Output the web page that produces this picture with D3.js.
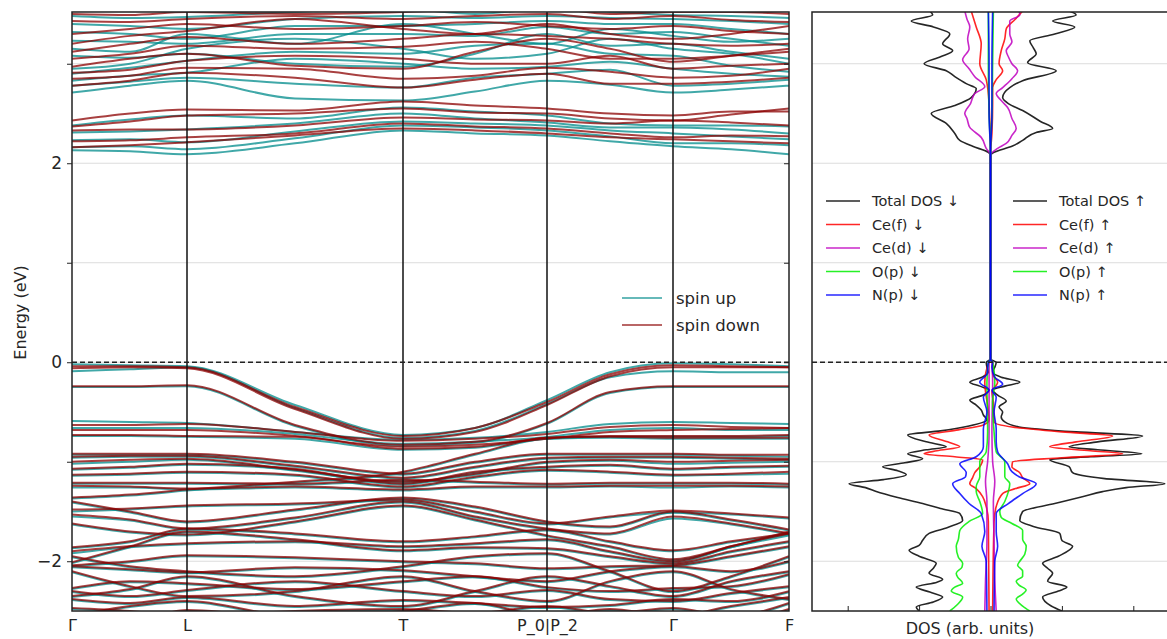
<!DOCTYPE html>
<html>
<head>
<meta charset="utf-8">
<script src="https://cdn.jsdelivr.net/npm/d3@7"></script>
<style>
  body { margin: 0; background: #fff; }
  text { font-family: "DejaVu Sans", sans-serif; fill: #262626; }
</style>
</head>
<body>
<div id="chart"></div>
<script>
// k-path: sample positions along the path and the high symmetry points
let kPts = [0, 0.58, 1.15, 2.23, 3.31, 4.03, 4.75, 5.38, 6.01, 6.59, 7.17];
let kTicks = [0, 1.15, 3.31, 4.75, 6.01, 7.17];
let kLabels = ["Γ", "L", "T", "P_0|P_2", "Γ", "F"];
let energyTicks = [-2, -1, 0, 1, 2, 3];

// band energies (eV) at kPts, spin up
let valenceUp = [
  [-0.02,-0.03,-0.04,-0.43,-0.73,-0.66,-0.38,-0.10,-0.01,-0.02,-0.04],
  [-0.09,-0.07,-0.05,-0.46,-0.76,-0.69,-0.42,-0.15,-0.09,-0.10,-0.10],
  [-0.25,-0.25,-0.24,-0.64,-0.84,-0.81,-0.62,-0.31,-0.25,-0.25,-0.25],
  [-0.59,-0.60,-0.61,-0.70,-0.78,-0.76,-0.70,-0.62,-0.60,-0.61,-0.62],
  [-0.66,-0.66,-0.66,-0.72,-0.82,-0.80,-0.75,-0.68,-0.66,-0.68,-0.68],
  [-0.74,-0.74,-0.75,-0.77,-0.88,-0.86,-0.77,-0.75,-0.75,-0.75,-0.74],
  [-0.93,-0.93,-0.93,-1.01,-1.13,-1.01,-0.93,-0.93,-0.93,-0.94,-0.95],
  [-0.96,-0.95,-0.95,-1.05,-1.17,-1.06,-0.97,-0.96,-0.96,-0.97,-0.98],
  [-1.02,-1.00,-0.98,-1.09,-1.21,-1.13,-1.01,-0.99,-1.02,-1.01,-1.00],
  [-1.08,-1.06,-1.03,-1.08,-1.23,-1.11,-1.06,-1.04,-1.08,-1.06,-1.05],
  [-1.14,-1.13,-1.11,-1.14,-1.26,-1.16,-1.09,-1.11,-1.14,-1.13,-1.12],
  [-1.22,-1.22,-1.22,-1.23,-1.19,-1.21,-1.23,-1.22,-1.22,-1.22,-1.23],
  [-1.26,-1.26,-1.28,-1.26,-1.29,-1.26,-1.26,-1.25,-1.26,-1.25,-1.26],
  [-1.37,-1.34,-1.29,-1.21,-1.11,-0.93,-0.77,-0.76,-0.77,-0.77,-0.77],
  [-1.41,-1.51,-1.61,-1.49,-1.37,-1.46,-1.61,-1.66,-1.51,-1.59,-1.69],
  [-1.50,-1.48,-1.45,-1.43,-1.39,-1.51,-1.63,-1.56,-1.51,-1.53,-1.57],
  [-1.55,-1.59,-1.68,-1.57,-1.41,-1.56,-1.68,-1.73,-1.57,-1.63,-1.73],
  [-1.63,-1.71,-1.74,-1.61,-1.45,-1.59,-1.75,-1.86,-1.99,-1.86,-1.71],
  [-1.87,-1.81,-1.68,-1.73,-1.81,-1.76,-1.69,-1.81,-1.90,-1.81,-1.73],
  [-1.92,-1.86,-1.83,-1.81,-1.86,-1.83,-1.79,-1.91,-2.01,-1.86,-1.74],
  [-1.96,-2.06,-2.11,-2.16,-2.06,-1.96,-1.93,-2.11,-2.31,-2.16,-1.96],
  [-2.02,-1.86,-1.71,-1.79,-1.90,-1.87,-1.88,-1.96,-2.03,-1.91,-1.81],
  [-2.05,-2.01,-1.95,-1.97,-2.01,-2.03,-2.08,-2.06,-2.05,-1.96,-1.86],
  [-2.06,-2.09,-2.12,-2.07,-2.10,-2.16,-2.21,-2.11,-2.06,-2.11,-2.01],
  [-2.11,-2.26,-2.36,-2.31,-2.16,-2.31,-2.41,-2.21,-2.11,-2.29,-2.39],
  [-2.28,-2.21,-2.23,-2.29,-2.21,-2.16,-2.27,-2.31,-2.28,-2.26,-2.14],
  [-2.31,-2.36,-2.30,-2.21,-2.31,-2.36,-2.30,-2.39,-2.41,-2.33,-2.26],
  [-2.36,-2.29,-2.16,-2.36,-2.46,-2.31,-2.16,-2.26,-2.36,-2.21,-2.11],
  [-2.39,-2.43,-2.37,-2.46,-2.40,-2.43,-2.47,-2.45,-2.39,-2.41,-2.31],
  [-2.48,-2.51,-2.56,-2.51,-2.49,-2.53,-2.46,-2.53,-2.48,-2.56,-2.43],
  [-2.56,-2.46,-2.41,-2.56,-2.51,-2.43,-2.56,-2.49,-2.56,-2.46,-2.37],
  [-2.61,-2.61,-2.50,-2.59,-2.61,-2.59,-2.61,-2.61,-2.61,-2.61,-2.49]
];
let conductionUp = [
  [2.13, 2.12, 2.09, 2.20, 2.33, 2.30, 2.28, 2.22, 2.17, 2.14, 2.09],
  [2.16, 2.17, 2.14, 2.25, 2.38, 2.36, 2.33, 2.27, 2.20, 2.20, 2.18],
  [2.23, 2.24, 2.21, 2.32, 2.42, 2.40, 2.38, 2.33, 2.30, 2.27, 2.24],
  [2.31, 2.32, 2.34, 2.40, 2.50, 2.45, 2.41, 2.36, 2.36, 2.34, 2.30],
  [2.38, 2.44, 2.48, 2.45, 2.56, 2.52, 2.48, 2.40, 2.38, 2.38, 2.37],
  [2.71, 2.78, 2.83, 2.65, 2.63, 2.72, 2.83, 2.79, 2.71, 2.74, 2.78],
  [2.78, 2.82, 2.86, 2.80, 2.76, 2.86, 2.90, 2.94, 2.78, 2.80, 2.84],
  [2.83, 2.88, 2.91, 3.05, 3.00, 2.95, 2.97, 3.02, 2.95, 2.90, 2.87],
  [2.90, 2.96, 3.03, 3.12, 3.10, 3.18, 3.20, 3.10, 3.08, 2.98, 2.92],
  [2.95, 3.00, 3.15, 3.25, 3.15, 3.05, 3.10, 3.25, 3.15, 3.10, 3.00],
  [3.08, 3.06, 3.10, 3.00, 2.97, 3.10, 3.30, 3.18, 3.20, 3.12, 3.05],
  [3.15, 3.12, 3.30, 3.20, 3.40, 3.30, 3.20, 3.35, 3.28, 3.22, 3.25],
  [3.23, 3.22, 3.20, 3.30, 3.30, 3.28, 3.37, 3.30, 3.32, 3.25, 3.18],
  [3.32, 3.30, 3.25, 3.38, 3.38, 3.40, 3.43, 3.40, 3.40, 3.35, 3.30],
  [3.40, 3.38, 3.35, 3.45, 3.48, 3.46, 3.48, 3.46, 3.45, 3.43, 3.40],
  [3.48, 3.46, 3.47, 3.52, 3.55, 3.50, 3.55, 3.52, 3.49, 3.48, 3.46]
];

// band energies (eV) at kPts, spin down
let valenceDown = [
  [-0.04,-0.04,-0.05,-0.45,-0.74,-0.66,-0.40,-0.12,-0.03,-0.04,-0.05],
  [-0.06,-0.05,-0.06,-0.47,-0.77,-0.70,-0.43,-0.14,-0.05,-0.05,-0.05],
  [-0.24,-0.24,-0.23,-0.63,-0.83,-0.80,-0.61,-0.30,-0.24,-0.24,-0.24],
  [-0.63,-0.63,-0.62,-0.70,-0.79,-0.77,-0.72,-0.65,-0.63,-0.65,-0.66],
  [-0.68,-0.68,-0.68,-0.74,-0.85,-0.83,-0.77,-0.70,-0.68,-0.67,-0.66],
  [-0.73,-0.73,-0.74,-0.75,-0.87,-0.85,-0.76,-0.74,-0.74,-0.74,-0.73],
  [-0.92,-0.92,-0.92,-1.00,-1.12,-1.00,-0.92,-0.92,-0.92,-0.93,-0.93],
  [-0.95,-0.94,-0.94,-1.04,-1.16,-1.05,-0.96,-0.95,-0.95,-0.96,-0.97],
  [-1.00,-0.98,-0.97,-1.08,-1.20,-1.12,-1.00,-0.98,-1.00,-0.99,-0.98],
  [-1.07,-1.05,-1.02,-1.07,-1.22,-1.10,-1.05,-1.03,-1.07,-1.05,-1.04],
  [-1.13,-1.12,-1.10,-1.13,-1.25,-1.15,-1.08,-1.10,-1.13,-1.12,-1.10],
  [-1.21,-1.21,-1.21,-1.22,-1.18,-1.20,-1.22,-1.21,-1.21,-1.21,-1.22],
  [-1.24,-1.25,-1.27,-1.25,-1.28,-1.25,-1.25,-1.24,-1.24,-1.24,-1.25],
  [-1.36,-1.33,-1.28,-1.20,-1.10,-0.92,-0.76,-0.75,-0.76,-0.76,-0.76],
  [-1.40,-1.50,-1.60,-1.48,-1.36,-1.45,-1.60,-1.65,-1.50,-1.58,-1.68],
  [-1.48,-1.47,-1.44,-1.42,-1.38,-1.50,-1.62,-1.55,-1.49,-1.52,-1.56],
  [-1.53,-1.58,-1.67,-1.56,-1.40,-1.55,-1.67,-1.72,-1.55,-1.62,-1.72],
  [-1.62,-1.70,-1.73,-1.60,-1.44,-1.58,-1.74,-1.85,-1.98,-1.85,-1.70],
  [-1.86,-1.80,-1.67,-1.72,-1.80,-1.75,-1.68,-1.80,-1.89,-1.80,-1.72],
  [-1.90,-1.85,-1.82,-1.80,-1.85,-1.82,-1.78,-1.90,-2.00,-1.85,-1.72],
  [-1.95,-2.05,-2.10,-2.15,-2.05,-1.95,-1.92,-2.10,-2.30,-2.15,-1.95],
  [-2.01,-1.85,-1.70,-1.78,-1.89,-1.86,-1.87,-1.95,-2.02,-1.90,-1.80],
  [-2.04,-2.00,-1.94,-1.96,-2.00,-2.02,-2.07,-2.05,-2.04,-1.95,-1.85],
  [-2.05,-2.08,-2.11,-2.06,-2.09,-2.15,-2.20,-2.10,-2.05,-2.10,-2.00],
  [-2.10,-2.25,-2.35,-2.30,-2.15,-2.30,-2.40,-2.20,-2.10,-2.28,-2.38],
  [-2.27,-2.20,-2.22,-2.28,-2.20,-2.15,-2.26,-2.30,-2.27,-2.25,-2.13],
  [-2.30,-2.35,-2.29,-2.20,-2.30,-2.35,-2.29,-2.38,-2.40,-2.32,-2.25],
  [-2.35,-2.28,-2.15,-2.35,-2.45,-2.30,-2.15,-2.25,-2.35,-2.20,-2.10],
  [-2.38,-2.42,-2.36,-2.45,-2.39,-2.42,-2.46,-2.44,-2.38,-2.40,-2.30],
  [-2.47,-2.50,-2.55,-2.50,-2.48,-2.52,-2.45,-2.52,-2.47,-2.55,-2.42],
  [-2.55,-2.45,-2.40,-2.55,-2.50,-2.42,-2.55,-2.48,-2.55,-2.45,-2.36],
  [-2.60,-2.60,-2.49,-2.58,-2.60,-2.58,-2.60,-2.60,-2.60,-2.60,-2.48]
];
let conductionDown = [
  [2.16, 2.18, 2.21, 2.28, 2.35, 2.33, 2.30, 2.26, 2.24, 2.22, 2.20],
  [2.22, 2.23, 2.26, 2.30, 2.40, 2.37, 2.35, 2.30, 2.26, 2.28, 2.27],
  [2.33, 2.34, 2.34, 2.38, 2.46, 2.44, 2.43, 2.40, 2.43, 2.41, 2.38],
  [2.37, 2.42, 2.48, 2.50, 2.55, 2.51, 2.50, 2.45, 2.43, 2.49, 2.55],
  [2.43, 2.50, 2.54, 2.53, 2.62, 2.58, 2.55, 2.50, 2.48, 2.52, 2.52],
  [2.78, 2.83, 2.91, 2.86, 2.76, 2.84, 2.90, 2.80, 2.80, 2.82, 2.86],
  [2.85, 2.88, 2.96, 2.95, 2.85, 2.88, 2.96, 2.92, 2.86, 2.88, 2.95],
  [2.91, 2.94, 3.03, 3.08, 3.05, 3.00, 3.00, 3.08, 2.95, 2.98, 3.00],
  [2.97, 3.05, 3.10, 2.98, 2.95, 3.12, 3.25, 3.15, 3.02, 3.08, 3.15],
  [3.05, 3.10, 3.18, 3.15, 3.17, 3.22, 3.15, 3.05, 3.05, 3.08, 3.12],
  [3.12, 3.20, 3.27, 3.20, 3.25, 3.30, 3.28, 3.25, 3.20, 3.18, 3.20],
  [3.20, 3.28, 3.33, 3.45, 3.35, 3.30, 3.40, 3.30, 3.25, 3.30, 3.38],
  [3.30, 3.35, 3.40, 3.35, 3.38, 3.42, 3.38, 3.35, 3.38, 3.33, 3.30],
  [3.43, 3.42, 3.45, 3.48, 3.45, 3.48, 3.50, 3.45, 3.48, 3.44, 3.42],
  [3.50, 3.49, 3.52, 3.50, 3.52, 3.55, 3.56, 3.50, 3.52, 3.52, 3.50]
];

// DOS curves as [energy, dos] pairs (spin down drawn to the left)
let totalDown = [[-2.5,1.0],[-2.46,1.04],[-2.41,0.8],[-2.36,0.67],[-2.31,0.85],[-2.26,1.04],[-2.21,0.75],[-2.18,0.67],[-2.12,0.86],[-2.07,0.8],[-2.02,0.76],[-1.95,1.0],[-1.89,1.14],[-1.84,1.0],[-1.79,0.95],[-1.72,0.86],[-1.66,0.6],[-1.59,0.39],[-1.52,0.43],[-1.47,0.7],[-1.42,0.95],[-1.36,1.3],[-1.30,1.6],[-1.26,1.75],[-1.22,1.98],[-1.18,1.5],[-1.13,1.18],[-1.09,1.3],[-1.05,1.51],[-1.01,1.2],[-0.97,0.95],[-0.92,1.16],[-0.88,0.9],[-0.85,0.62],[-0.8,0.9],[-0.73,1.16],[-0.69,0.7],[-0.64,0.3],[-0.58,0.05],[-0.53,0.1],[-0.48,0.13],[-0.43,0.2],[-0.38,0.29],[-0.33,0.1],[-0.28,0.02],[-0.24,0.15],[-0.2,0.29],[-0.15,0.12],[-0.1,0.03],[-0.05,0.05],[0,0.06],[0.03,0],[2.08,0],[2.11,0.03],[2.17,0.25],[2.23,0.43],[2.3,0.5],[2.4,0.62],[2.5,0.83],[2.58,0.5],[2.66,0.27],[2.75,0.2],[2.8,0.34],[2.87,0.5],[2.93,0.62],[3.0,0.93],[3.07,0.7],[3.13,0.53],[3.2,0.67],[3.3,0.57],[3.37,0.8],[3.43,1.11],[3.49,0.81],[3.53,0.85]];
let cefDown = [[-2.5,0.02],[-1.6,0.03],[-1.45,0.06],[-1.35,0.11],[-1.27,0.2],[-1.22,0.29],[-1.16,0.25],[-1.11,0.22],[-1.05,0.15],[-0.98,0.11],[-0.95,0.5],[-0.92,0.93],[-0.89,0.75],[-0.85,0.43],[-0.8,0.6],[-0.73,0.86],[-0.68,0.45],[-0.63,0.1],[-0.58,0.02],[-0.2,0.08],[0,0.02],[0.03,0],[2.08,0],[2.6,0.02],[2.84,0.06],[3.0,0.15],[3.2,0.13],[3.37,0.2],[3.53,0.27]];
let cedDown = [[-2.5,0.08],[-2.2,0.07],[-1.8,0.05],[-1.4,0.05],[-1.2,0.07],[-1.0,0.04],[-0.7,0.02],[0,0.02],[0.03,0],[2.08,0],[2.15,0.06],[2.26,0.13],[2.36,0.29],[2.45,0.33],[2.5,0.36],[2.6,0.28],[2.7,0.22],[2.77,0.08],[2.87,0.22],[2.95,0.3],[3.04,0.39],[3.15,0.3],[3.25,0.32],[3.37,0.29],[3.45,0.33],[3.53,0.36]];
let opDown = [[-2.5,0.57],[-2.44,0.47],[-2.36,0.39],[-2.3,0.55],[-2.26,0.5],[-2.22,0.39],[-2.16,0.46],[-2.12,0.48],[-2.06,0.4],[-2.02,0.39],[-1.96,0.45],[-1.85,0.48],[-1.78,0.45],[-1.69,0.43],[-1.6,0.3],[-1.52,0.11],[-1.4,0.15],[-1.3,0.2],[-1.25,0.2],[-1.15,0.15],[-1.0,0.15],[-0.9,0.06],[-0.7,0.04],[-0.2,0.05],[0,0.03],[0.03,0],[2.08,0],[2.5,0.02],[3.0,0.03],[3.53,0.03]];
let npDown = [[-2.5,0.05],[-2.0,0.06],[-1.85,0.12],[-1.7,0.08],[-1.52,0.13],[-1.42,0.3],[-1.32,0.43],[-1.22,0.53],[-1.15,0.35],[-1.11,0.34],[-1.02,0.43],[-0.95,0.2],[-0.85,0.1],[-0.67,0.1],[-0.5,0.05],[-0.35,0.1],[-0.28,0.02],[-0.2,0.15],[-0.12,0.05],[0,0.03],[0.03,0],[2.08,0],[2.5,0.02],[3.0,0.02],[3.53,0.03]];

let totalUp = [[-2.5,1.0],[-2.45,0.85],[-2.36,0.73],[-2.3,0.95],[-2.26,1.07],[-2.2,0.8],[-2.12,0.87],[-2.07,0.8],[-2.02,0.73],[-1.95,0.95],[-1.85,1.15],[-1.79,1.0],[-1.72,0.97],[-1.65,0.6],[-1.59,0.41],[-1.5,0.45],[-1.42,0.9],[-1.35,1.3],[-1.30,1.57],[-1.26,1.9],[-1.22,2.44],[-1.17,1.6],[-1.11,1.15],[-1.05,1.1],[-0.98,0.83],[-0.95,1.4],[-0.92,2.12],[-0.88,1.5],[-0.85,1.1],[-0.8,1.5],[-0.74,2.13],[-0.7,1.2],[-0.65,0.4],[-0.6,0.2],[-0.55,0.15],[-0.5,0.17],[-0.45,0.12],[-0.39,0.22],[-0.33,0.1],[-0.28,0.03],[-0.24,0.2],[-0.2,0.41],[-0.15,0.15],[-0.1,0.03],[-0.05,0.06],[0,0.08],[0.03,0],[2.08,0],[2.11,0.05],[2.17,0.3],[2.23,0.45],[2.31,0.64],[2.35,0.87],[2.42,0.7],[2.53,0.45],[2.6,0.25],[2.66,0.17],[2.76,0.27],[2.83,0.45],[2.93,0.92],[3.01,0.52],[3.10,0.64],[3.16,0.6],[3.23,0.55],[3.3,0.9],[3.37,1.18],[3.43,0.87],[3.49,1.2],[3.53,1.1]];
let cefUp = [[-2.5,0.03],[-1.6,0.05],[-1.45,0.08],[-1.32,0.17],[-1.27,0.35],[-1.22,0.55],[-1.16,0.45],[-1.11,0.41],[-1.05,0.3],[-1.0,0.31],[-0.96,1.0],[-0.92,1.85],[-0.89,1.4],[-0.85,0.83],[-0.80,1.2],[-0.74,1.71],[-0.7,1.0],[-0.65,0.3],[-0.6,0.05],[-0.4,0.04],[-0.3,0.02],[-0.2,0.1],[-0.12,0.03],[0,0.03],[0.03,0],[2.08,0],[2.3,0.02],[2.6,0.03],[2.76,0.03],[2.84,0.08],[2.93,0.17],[3.0,0.12],[3.13,0.15],[3.25,0.2],[3.35,0.22],[3.45,0.35],[3.53,0.45]];
let cedUp = [[-2.5,0.08],[-2.2,0.06],[-1.8,0.05],[-1.4,0.04],[-1.2,0.06],[-1.0,0.03],[-0.7,0.02],[-0.2,0.03],[0,0.02],[0.03,0],[2.08,0],[2.15,0.1],[2.2,0.22],[2.28,0.3],[2.35,0.36],[2.45,0.3],[2.56,0.24],[2.63,0.15],[2.7,0.08],[2.76,0.17],[2.85,0.3],[2.93,0.38],[3.0,0.3],[3.07,0.25],[3.13,0.22],[3.22,0.3],[3.3,0.27],[3.43,0.27],[3.49,0.41],[3.53,0.4]];
let opUp = [[-2.5,0.55],[-2.45,0.45],[-2.38,0.36],[-2.33,0.45],[-2.29,0.5],[-2.24,0.4],[-2.2,0.36],[-2.15,0.45],[-2.1,0.45],[-2.04,0.38],[-2.0,0.41],[-1.93,0.48],[-1.85,0.5],[-1.78,0.45],[-1.69,0.45],[-1.62,0.3],[-1.56,0.15],[-1.5,0.13],[-1.4,0.2],[-1.3,0.25],[-1.22,0.27],[-1.15,0.2],[-1.05,0.2],[-1.0,0.2],[-0.9,0.08],[-0.7,0.05],[-0.4,0.03],[-0.2,0.06],[0,0.03],[0.03,0],[2.08,0],[2.5,0.02],[3.0,0.03],[3.53,0.04]];
let npUp = [[-2.5,0.05],[-2.0,0.06],[-1.85,0.1],[-1.7,0.08],[-1.52,0.08],[-1.42,0.25],[-1.32,0.45],[-1.22,0.64],[-1.15,0.4],[-1.1,0.3],[-1.02,0.24],[-0.9,0.1],[-0.8,0.08],[-0.67,0.08],[-0.5,0.05],[-0.35,0.08],[-0.28,0.02],[-0.22,0.17],[-0.15,0.06],[-0.05,0.02],[0,0.03],[0.03,0],[2.08,0],[2.5,0.02],[3.0,0.02],[3.53,0.03]];

let dosNames = ["Total DOS", "Ce(f)", "Ce(d)", "O(p)", "N(p)"];
let dosColors = ["#000000", "#ff0000", "#bf00bf", "#00ee00", "#0000ff"];
let dosDownSeries = [totalDown, cefDown, cedDown, opDown, npDown];
let dosUpSeries = [totalUp, cefUp, cedUp, opUp, npUp];
let dosTicks = [-2, -1, 0, 1, 2];

// SVG area
let svgWidth = 1167;
let svgHeight = 639;

// band panel and DOS panel boxes (pixels)
let bandBox = { left: 72, right: 789, top: 12, bottom: 611 };
let dosBox = { left: 812, right: 1169, top: 12, bottom: 611 };

let svg = d3.select("#chart")
  .append("svg")
  .attr("width", svgWidth)
  .attr("height", svgHeight);

let upColor = "#008b8b";
let downColor = "#8b0000";

// scales
let xBand = d3.scaleLinear().domain([0, 7.17]).range([bandBox.left, bandBox.right]);
let yE = d3.scaleLinear().domain([-2.5, 3.52]).range([bandBox.bottom, bandBox.top]);
let xDos = d3.scaleLinear().domain([-2.5, 2.5]).range([dosBox.left, dosBox.right]);

let defs = svg.append("defs");
defs.append("clipPath").attr("id", "clipBand")
  .append("rect")
  .attr("x", bandBox.left).attr("y", bandBox.top)
  .attr("width", bandBox.right - bandBox.left).attr("height", bandBox.bottom - bandBox.top);
defs.append("clipPath").attr("id", "clipDos")
  .append("rect")
  .attr("x", dosBox.left).attr("y", bandBox.top)
  .attr("width", dosBox.right - dosBox.left).attr("height", bandBox.bottom - bandBox.top);

// ---------- band structure panel ----------
let bandGrid = svg.append("g");
bandGrid.selectAll("line")
  .data(energyTicks)
  .enter()
  .append("line")
  .attr("x1", bandBox.left).attr("x2", bandBox.right)
  .attr("y1", d => yE(d)).attr("y2", d => yE(d))
  .attr("stroke", "#dcdcdc").attr("stroke-width", 1);

let bandLine = d3.line()
  .x((e, i) => xBand(kPts[i]))
  .y(e => yE(e))
  .curve(d3.curveMonotoneX);

let bandsG = svg.append("g").attr("clip-path", "url(#clipBand)");

bandsG.selectAll(".up")
  .data(valenceUp.concat(conductionUp))
  .enter()
  .append("path")
  .attr("class", "up")
  .attr("d", bandLine)
  .attr("fill", "none")
  .attr("stroke", upColor)
  .attr("stroke-opacity", 0.75)
  .attr("stroke-width", 2);

bandsG.selectAll(".down")
  .data(valenceDown.concat(conductionDown))
  .enter()
  .append("path")
  .attr("class", "down")
  .attr("d", bandLine)
  .attr("fill", "none")
  .attr("stroke", downColor)
  .attr("stroke-opacity", 0.75)
  .attr("stroke-width", 2);

// high symmetry vertical lines
svg.append("g").selectAll("line")
  .data(kTicks.slice(1, -1))
  .enter()
  .append("line")
  .attr("x1", d => xBand(d)).attr("x2", d => xBand(d))
  .attr("y1", bandBox.top).attr("y2", bandBox.bottom)
  .attr("stroke", "#111").attr("stroke-width", 1.5);

// Fermi level
svg.append("line")
  .attr("x1", bandBox.left).attr("x2", bandBox.right)
  .attr("y1", yE(0)).attr("y2", yE(0))
  .attr("stroke", "#222").attr("stroke-width", 1.3)
  .attr("stroke-dasharray", "5,3");

// frame
svg.append("rect")
  .attr("x", bandBox.left).attr("y", bandBox.top)
  .attr("width", bandBox.right - bandBox.left).attr("height", bandBox.bottom - bandBox.top)
  .attr("fill", "none").attr("stroke", "#222").attr("stroke-width", 1.5);

// y axis
let fmt = d3.format("d");
let leftAxis = d3.axisLeft(yE)
  .tickValues(energyTicks)
  .tickSize(5)
  .tickPadding(5)
  .tickFormat(d => d % 2 === 0 ? fmt(d) : "");
let yAxisG = svg.append("g")
  .attr("transform", `translate(${bandBox.left}, 0)`)
  .call(leftAxis);
yAxisG.select(".domain").remove();
yAxisG.selectAll("text").style("font-size", "17px").attr("fill", "#262626");
yAxisG.selectAll("line").attr("stroke", "#222");

// inward ticks on the right edge
let rightTicks = svg.append("g")
  .attr("transform", `translate(${bandBox.right}, 0)`)
  .call(d3.axisLeft(yE).tickValues(energyTicks).tickSize(5).tickFormat(""));
rightTicks.select(".domain").remove();
rightTicks.selectAll("line").attr("stroke", "#222");

// k-path labels
let bottomAxis = d3.axisBottom(xBand)
  .tickValues(kTicks)
  .tickSize(0)
  .tickPadding(9)
  .tickFormat((d, i) => kLabels[i]);
let xAxisG = svg.append("g")
  .attr("transform", `translate(0, ${bandBox.bottom})`)
  .call(bottomAxis);
xAxisG.select(".domain").remove();
xAxisG.selectAll("text").style("font-size", "16px").attr("fill", "#262626");

// y label
svg.append("text")
  .attr("transform", "rotate(-90)")
  .attr("x", -yE(0.5))
  .attr("y", 26)
  .attr("text-anchor", "middle")
  .style("font-size", "16px")
  .text("Energy (eV)");

// spin legend
let spinLegend = [["spin up", upColor], ["spin down", downColor]];
let sl = svg.append("g").selectAll("g")
  .data(spinLegend)
  .enter()
  .append("g")
  .attr("transform", (d, i) => `translate(622, ${298 + i * 27})`);
sl.append("line")
  .attr("x1", 0).attr("x2", 40)
  .attr("stroke", d => d[1]).attr("stroke-opacity", 0.6).attr("stroke-width", 1.8);
sl.append("text")
  .attr("x", 54).attr("y", 6)
  .style("font-size", "16.5px")
  .text(d => d[0]);

// ---------- DOS panel ----------
let dosGrid = svg.append("g");
dosGrid.selectAll("line")
  .data(energyTicks)
  .enter()
  .append("line")
  .attr("x1", dosBox.left).attr("x2", dosBox.right)
  .attr("y1", d => yE(d)).attr("y2", d => yE(d))
  .attr("stroke", "#dcdcdc").attr("stroke-width", 1);

let dosG = svg.append("g").attr("clip-path", "url(#clipDos)");

function dosLine(sign) {
  return d3.line()
    .x(d => xDos(sign * d[1]))
    .y(d => yE(d[0]))
    .curve(d3.curveMonotoneY);
}

dosNames.forEach(function(name, i) {
  dosG.append("path")
    .attr("d", dosLine(-1)(dosDownSeries[i]))
    .attr("fill", "none")
    .attr("stroke", dosColors[i])
    .attr("stroke-opacity", 0.85)
    .attr("stroke-width", 1.6);
  dosG.append("path")
    .attr("d", dosLine(1)(dosUpSeries[i]))
    .attr("fill", "none")
    .attr("stroke", dosColors[i])
    .attr("stroke-opacity", 0.85)
    .attr("stroke-width", 1.6);
});

svg.append("line")
  .attr("x1", dosBox.left).attr("x2", dosBox.right)
  .attr("y1", yE(0)).attr("y2", yE(0))
  .attr("stroke", "#222").attr("stroke-width", 1.3)
  .attr("stroke-dasharray", "5,3");

svg.append("rect")
  .attr("x", dosBox.left).attr("y", bandBox.top)
  .attr("width", dosBox.right - dosBox.left).attr("height", bandBox.bottom - bandBox.top)
  .attr("fill", "none").attr("stroke", "#222").attr("stroke-width", 1.5);

// inward ticks at the bottom of the DOS panel
let dosAxis = d3.axisTop(xDos).tickValues(dosTicks).tickSize(5).tickFormat("");
let dosAxisG = svg.append("g")
  .attr("transform", `translate(0, ${bandBox.bottom})`)
  .call(dosAxis);
dosAxisG.select(".domain").remove();
dosAxisG.selectAll("line").attr("stroke", "#222");

svg.append("text")
  .attr("x", 970)
  .attr("y", 634)
  .attr("text-anchor", "middle")
  .style("font-size", "16px")
  .text("DOS (arb. units)");

// DOS legend, two columns
let legendRows = [];
dosNames.forEach(function(name, i) {
  legendRows.push({ label: name + " ↓", color: dosColors[i], col: 0, row: i });
  legendRows.push({ label: name + " ↑", color: dosColors[i], col: 1, row: i });
});
let dl = svg.append("g").selectAll("g")
  .data(legendRows)
  .enter()
  .append("g")
  .attr("transform", d => `translate(${826 + d.col * 187}, ${201 + d.row * 23.5})`);
dl.append("line")
  .attr("x1", 0).attr("x2", 34)
  .attr("stroke", d => d.color).attr("stroke-opacity", 0.85).attr("stroke-width", 1.6);
dl.append("text")
  .attr("x", 46).attr("y", 5)
  .style("font-size", "14.5px")
  .text(d => d.label);
</script>
</body>
</html>
